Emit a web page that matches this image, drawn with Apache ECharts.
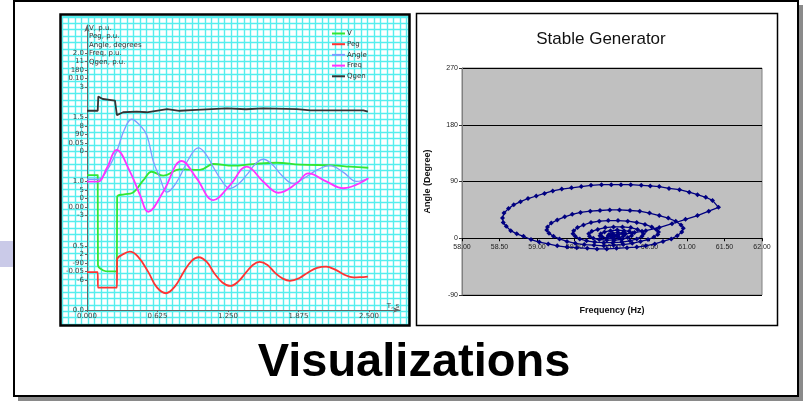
<!DOCTYPE html>
<html><head><meta charset="utf-8">
<script src="https://cdn.jsdelivr.net/npm/echarts@6/dist/echarts.min.js"></script>
<style>html,body{margin:0;padding:0;background:#fff}#c{width:804px;height:402px}</style>
</head><body><div id="c"></div>
<script>
// ---------- data ----------
const seriesNames = ['V', 'Peg', 'Angle', 'Freq', 'Qgen'];
const timeTicks = [0, 0.625, 1.25, 1.875, 2.5];
const vTicks = [0, 0.5, 1.0, 1.5, 2.0];
const pegTicks = [2, 5, 8, 11];
const angleTicks = [-90, 0, 90, 180];
const freqTicks = [-0.05, 0.00, 0.05, 0.10];
const qgenTicks = [-6, -3, 0, 3];
const axisNames = ['V, p.u.', 'Peg, p.u.', 'Angle, degrees', 'Freq, p.u.', 'Qgen, p.u.'];

const vData = [[0,1.05],[0.095,1.05],[0.095,1.05],[0.097,0.35],[0.097,0.35],[0.14,0.31],[0.20,0.30],[0.265,0.30],[0.265,0.30],[0.267,0.88],[0.267,0.88],[0.33,0.90],[0.40,0.91],[0.50,1.01],[0.573,1.076],[0.676,1.045],[0.824,1.095],[1.0,1.09],[1.12,1.136],[1.297,1.123],[1.474,1.136],[1.682,1.146],[1.888,1.131],[2.184,1.126],[2.332,1.115],[2.494,1.107]];
const pegData = [[0,1.17],[0.095,1.17],[0.095,1.17],[0.097,0.44],[0.097,0.44],[0.265,0.44],[0.265,0.44],[0.267,1.76],[0.267,1.76],[0.32,2.0],[0.38,2.12],[0.45,1.9],[0.54,1.2],[0.62,0.45],[0.70,0.18],[0.78,0.5],[0.86,1.2],[0.93,1.7],[0.99,1.86],[1.06,1.65],[1.13,1.1],[1.20,0.68],[1.27,0.52],[1.34,0.72],[1.41,1.15],[1.47,1.5],[1.53,1.64],[1.60,1.5],[1.67,1.12],[1.74,0.85],[1.80,0.76],[1.88,0.88],[1.96,1.15],[2.04,1.36],[2.12,1.42],[2.20,1.28],[2.28,1.05],[2.36,0.92],[2.42,0.93],[2.49,0.96]];
const angleData = [[0,27],[0.1,27],[0.18,40],[0.263,66],[0.33,96],[0.396,111],[0.46,104],[0.529,89],[0.588,52],[0.647,29],[0.707,9],[0.76,15],[0.824,31],[0.90,55],[0.987,71],[1.05,63],[1.12,44],[1.19,26],[1.268,14],[1.34,20],[1.416,33],[1.49,48],[1.563,55],[1.64,48],[1.73,32],[1.826,21],[1.92,28],[2.04,40],[2.154,46],[2.27,37],[2.391,24],[2.494,28]];
const freqData = [[0,0.0197],[0.095,0.0197],[0.175,0.0301],[0.263,0.0444],[0.263,0.0444],[0.381,0.0275],[0.47,0.0093],[0.543,-0.0037],[0.676,0.0119],[0.84,0.0358],[0.972,0.0223],[1.12,0.0054],[1.268,0.0171],[1.416,0.0314],[1.563,0.0197],[1.696,0.0111],[1.859,0.0184],[1.962,0.0262],[2.125,0.0197],[2.272,0.0146],[2.494,0.0223]];
const qgenData = [[0,1.89],[0.095,1.89],[0.10,2.55],[0.14,2.44],[0.248,2.36],[0.265,1.69],[0.32,1.82],[0.44,1.85],[0.53,1.82],[0.71,1.97],[0.82,1.89],[0.97,1.93],[1.24,2.0],[1.41,1.96],[1.56,2.0],[1.86,1.97],[1.98,1.91],[2.45,1.91],[2.49,1.85]];

// right chart: frequency (Hz) vs angle (degree)
const spiralData = [
[60.00,5],[60.08,6],[60.18,7],[60.30,9],[60.45,12],[60.63,17],[60.80,23],[60.98,30],[61.14,36],[61.29,43],[61.42,49],
[61.34,60],[61.25,65],[61.14,69],[61.03,73],[60.90,77],[60.76,79],[60.63,82],[60.51,83],[60.39,84],[60.25,85],[60.12,85],[59.99,85],[59.86,85],[59.72,84],[59.59,82],[59.46,80],[59.33,78],[59.21,75],[59.10,71],[58.99,67],[58.88,63],[58.78,58],[58.69,53],[58.62,47],[58.56,40],[58.54,32],[58.55,25],[58.59,19],[58.65,12],[58.73,7],[58.82,3],[58.92,-2],[59.03,-6],[59.15,-9],[59.27,-12],[59.40,-14],[59.53,-15],[59.67,-16],[59.80,-17],[59.93,-17],[60.06,-16],[60.20,-15],[60.33,-14],[60.45,-12],[60.57,-9],[60.68,-5],[60.79,-1],[60.87,4],[60.93,10],[60.95,16],[60.92,21],
[60.85,27],[60.75,32],[60.63,36],[60.50,40],[60.37,43],[60.24,44],[60.10,45],[59.97,45],[59.84,44],[59.71,43],[59.58,41],[59.47,38],[59.37,34],[59.27,29],[59.19,24],[59.14,18],[59.13,13],[59.16,8],[59.22,3],[59.30,-1],[59.40,-5],[59.51,-8],[59.63,-10],[59.76,-11],[59.89,-12],[60.02,-11],[60.15,-10],[60.27,-8],[60.38,-5],[60.48,-2],[60.56,2],[60.61,6],[60.62,10],[60.59,14],
[60.53,18],[60.44,22],[60.33,25],[60.21,27],[60.08,28],[59.95,28],[59.83,27],[59.72,25],[59.62,21],[59.54,17],[59.49,12],[59.48,7],[59.51,3],[59.57,-1],[59.66,-4],[59.77,-6],[59.89,-7],[60.01,-7],[60.13,-6],[60.24,-4],[60.33,-1],[60.40,3],[60.42,7],[60.40,11],
[60.34,14],[60.25,17],[60.14,18],[60.02,18],[59.91,17],[59.81,14],[59.73,11],[59.69,7],[59.70,3],[59.75,0],[59.83,-2],[59.93,-3],[60.03,-3],[60.13,-2],[60.21,1],[60.26,4],[60.27,8],
[60.23,11],[60.16,12],[60.07,13],[59.98,12],[59.90,10],[59.85,7],[59.84,4],[59.87,2],[59.93,0],[60.01,0],[60.09,1],[60.15,3],[60.17,6],[60.14,8],[60.08,9],[60.01,8],[59.96,6],[59.95,4],[59.98,3],[60.03,3],[60.07,4],[60.08,5]
];
const freqAxisTicks = [58, 62, 0.5];   // min, max, step
const angleAxisTicks = [-90, 270, 90];

// ---------- layout ----------
const BASE = 310, TOP = 25, STEP = 64.25, OFF = 8.5, X0 = 87, XR = 400, PXT = 70.5 / 0.625;
const RG = {left: 462, top: 68, width: 300, height: 227};
const LF = 'DejaVu Sans', RF = 'Liberation Sans';
const colors = ['#33e633', '#ff3333', '#7f9cff', '#ff33ff', '#333333'];
const leftData = [vData, pegData, angleData, freqData, qgenData];
const axDefs = [
  {ticks: vTicks, s: 0.5, dec: 1},
  {ticks: pegTicks, s: 3, dec: 0},
  {ticks: angleTicks, s: 90, dec: 0},
  {ticks: freqTicks, s: 0.05, dec: 2},
  {ticks: qgenTicks, s: 3, dec: 0}
];
const yAxes = axDefs.map((a, i) => {
  const yFirst = BASE + OFF * i - (i > 0 ? STEP : 0);
  const min = a.ticks[0] - (BASE - yFirst) / STEP * a.s;
  const max = min + (BASE - TOP) / STEP * a.s;
  return {
    type: 'value', gridIndex: 0, min: min, max: max, position: 'left',
    axisLine: {show: i === 0, onZero: false, lineStyle: {color: '#666', width: 1}, symbol: ['none', 'arrow'], symbolSize: [4, 7]},
    axisTick: {show: true, length: 2, customValues: a.ticks, lineStyle: {color: '#666'}},
    axisLabel: {customValues: a.ticks, formatter: v => Number(v).toFixed(a.dec), fontSize: 7, color: '#444', margin: 3, fontFamily: LF},
    splitLine: {show: false}
  };
});
// cyan background grid axis
yAxes.push({type: 'value', gridIndex: 1, min: 0, max: 308, interval: 6.4,
  axisLine: {show: false}, axisTick: {show: false}, axisLabel: {show: false},
  splitLine: {show: true, lineStyle: {color: '#55eeee', width: 1.4}}});
// right chart y
yAxes.push({type: 'value', gridIndex: 2, min: angleAxisTicks[0], max: angleAxisTicks[1], interval: angleAxisTicks[2],
  name: 'Angle (Degree)', nameLocation: 'middle', nameGap: 30,
  nameTextStyle: {fontSize: 9, fontWeight: 'bold', color: '#111', fontFamily: RF},
  axisLine: {show: true, onZero: false, lineStyle: {color: '#808080'}}, axisTick: {show: true, length: 3, lineStyle: {color: '#333'}},
  axisLabel: {fontSize: 7, color: '#222', fontFamily: RF, margin: 4},
  splitLine: {show: true, lineStyle: {color: '#000', width: 1}}});

const zeroOffset = -(0 - angleAxisTicks[0]) / (angleAxisTicks[1] - angleAxisTicks[0]) * RG.height;
const xAxes = [
  {type: 'value', gridIndex: 0, min: 0, max: (XR - X0) / PXT,
   axisLine: {onZero: false, lineStyle: {color: '#666'}, symbol: ['none', 'arrow'], symbolSize: [4, 7]},
   axisTick: {customValues: timeTicks, length: 2, lineStyle: {color: '#666'}},
   axisLabel: {customValues: timeTicks, formatter: v => Number(v).toFixed(3), fontSize: 7, color: '#444', margin: 3, fontFamily: LF},
   splitLine: {show: false}},
  {type: 'value', gridIndex: 1, min: 0, max: 346, interval: 6.5,
   axisLine: {show: false}, axisTick: {show: false}, axisLabel: {show: false},
   splitLine: {show: true, lineStyle: {color: '#55eeee', width: 1.4}}},
  {type: 'value', gridIndex: 2, min: freqAxisTicks[0], max: freqAxisTicks[1], interval: freqAxisTicks[2],
   position: 'bottom', offset: zeroOffset,
   axisLine: {onZero: false, lineStyle: {color: '#000', width: 1}},
   axisTick: {show: true, length: 3, lineStyle: {color: '#000'}},
   axisLabel: {formatter: v => Number(v).toFixed(2), fontSize: 7, color: '#222', fontFamily: RF, margin: 5},
   splitLine: {show: false}}
];

const series = leftData.map((d, i) => ({
  name: seriesNames[i], type: 'line', xAxisIndex: 0, yAxisIndex: i, data: d,
  symbol: 'none', smooth: i === 4 ? false : 0.4,
  lineStyle: {color: colors[i], width: i === 2 ? 1.3 : 1.8}, itemStyle: {color: colors[i]}, z: 3 + (i === 4 ? 1 : 0)
}));
series.push({
  name: 'Stable Generator', type: 'line', xAxisIndex: 2, yAxisIndex: 6, data: spiralData,
  symbol: 'diamond', symbolSize: 5, showSymbol: true,
  lineStyle: {color: '#000080', width: 1.3}, itemStyle: {color: '#000080'}
});

const graphics = [
  {type: 'rect', shape: {x: 0, y: 241, width: 14, height: 26}, style: {fill: '#cacae8'}, z: -20},
  {type: 'rect', shape: {x: 18, y: 5, width: 785, height: 396}, style: {fill: '#8a8a8a'}, z: -20},
  {type: 'rect', shape: {x: 14, y: 1, width: 784, height: 395}, style: {fill: '#fff', stroke: '#000', lineWidth: 2}, z: -19},
  {type: 'rect', shape: {x: 61, y: 15, width: 348, height: 310}, style: {fill: '#fff'}, z: -18},
  {type: 'rect', shape: {x: 60.5, y: 14.5, width: 349, height: 311}, style: {fill: null, stroke: '#000', lineWidth: 2.5}, z: 100},
  {type: 'rect', shape: {x: 416.5, y: 13.5, width: 361, height: 312}, style: {fill: '#fff', stroke: '#000', lineWidth: 1.5}, z: -18},
  {type: 'text', x: 393, y: 306, style: {text: 'T, s', font: '7px "DejaVu Sans"', fill: '#444', textAlign: 'center', textVerticalAlign: 'middle'}, z: 100},
  {type: 'text', x: 612, y: 311, style: {text: 'Frequency (Hz)', font: 'bold 9px "Liberation Sans"', fill: '#111', textAlign: 'center', textVerticalAlign: 'middle'}, z: 100},
  {type: 'text', x: 414, y: 363, style: {text: 'Visualizations', font: 'bold 47px "Liberation Sans"', fill: '#000', textAlign: 'center', textVerticalAlign: 'middle'}, z: 100}
];
axisNames.forEach((n, i) => {
  graphics.push({type: 'text', x: 89, y: 28 + 8.5 * i, style: {text: n, font: '7px "DejaVu Sans"', fill: '#333', textAlign: 'left', textVerticalAlign: 'middle'}, z: 100});
});

const chart = echarts.init(document.getElementById('c'));
chart.setOption({
  animation: false,
  backgroundColor: '#fff',
  title: [{text: 'Stable Generator', left: 596, top: 26, textAlign: 'center',
    textStyle: {fontSize: 17, fontWeight: 'normal', color: '#111', fontFamily: RF}}],
  legend: {data: seriesNames, orient: 'vertical', left: 332, top: 30, padding: 0, icon: 'rect',
    itemWidth: 13, itemHeight: 2, itemGap: 3.7,
    textStyle: {fontSize: 7, color: '#333', fontFamily: LF, padding: [0, 0, 0, -3]}},
  grid: [
    {left: X0, top: TOP, width: XR - X0, height: BASE - TOP, containLabel: false},
    {left: 62, top: 16, width: 346, height: 308, containLabel: false},
    {left: RG.left, top: RG.top, width: RG.width, height: RG.height, show: true, backgroundColor: '#c0c0c0', borderColor: '#808080', borderWidth: 1, containLabel: false}
  ],
  xAxis: xAxes,
  yAxis: yAxes,
  series: series,
  graphic: {elements: graphics}
});
</script></body></html>
